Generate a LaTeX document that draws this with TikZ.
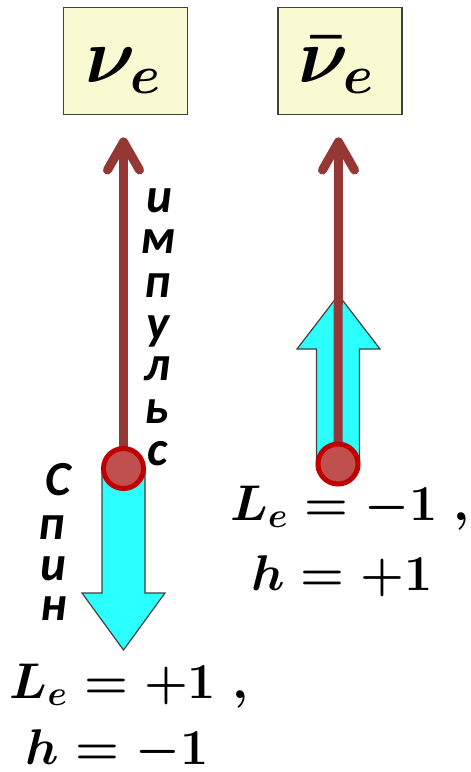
\documentclass[tikz,border=0pt]{standalone}
\usepackage{fontspec}
\newfontfamily\cyr{Carlito}
\usetikzlibrary{calc}
\definecolor{boxfill}{HTML}{FAFAD2}
\definecolor{boxline}{HTML}{404040}
\definecolor{mom}{HTML}{953735}
\definecolor{ballfill}{HTML}{C0504D}
\definecolor{ballline}{HTML}{C00000}
\definecolor{spin}{HTML}{2BFFFF}
\begin{document}
\begin{tikzpicture}[x=1pt,y=-1pt,
 partbox/.style={draw=boxline, line width=1.5pt, fill=boxfill, minimum width=124pt, minimum height=107pt, inner sep=0pt},
 parttext/.style={font=\boldmath\fontsize{20.74}{25}\selectfont, scale=3.76, inner sep=0pt, anchor=base},
 momline/.style={draw=mom, line width=9pt, line cap=round, line join=round},
 ball/.style={circle, draw=ballline, fill=ballfill, line width=5pt, minimum size=40pt, inner sep=0pt},
 spinarrow/.style={draw=boxline, line width=1.2pt, fill=spin, line join=miter},
 cyrl/.style={font=\cyr\bfseries\itshape\fontsize{49}{49}\selectfont, inner sep=0pt, anchor=base},
 eqtext/.style={font=\boldmath\fontsize{20.74}{25}\selectfont, scale=2.42, inner sep=0pt, anchor=base}
]
\useasboundingbox (0,0) rectangle (471,772);
% particle boxes
\node[partbox] (boxnu) at (125.5,61) {};
\node[parttext] (nu) at (123.5,82) {$\nu_e$};
\node[partbox] (boxanu) at (340,61) {};
\node[parttext] (anu) at (337,82) {$\bar{\nu}_e$};
% centres
\coordinate (cL) at (123.5,468.5);
\coordinate (cR) at (338,464);
\coordinate (tipL) at (123.5,142);
\coordinate (tipR) at (338.5,142);
% spin arrows
\draw[spinarrow] (102,470) -- (102,593) -- (82,593) -- (123.5,650) -- (165,593) -- (145,593) -- (145,470) -- cycle;
\draw[spinarrow] (316.5,470) -- (316.5,349) -- (297,349) -- (338.5,295) -- (380,349) -- (359.5,349) -- (359.5,470) -- cycle;
% momentum arrows
\draw[momline] (cL) -- (tipL);
\draw[momline] ($(tipL)+(-16,28)$) -- (tipL) -- ($(tipL)+(16,28)$);
\draw[momline] (cR) -- (tipR);
\draw[momline] ($(tipR)+(-16,28)$) -- (tipR) -- ($(tipR)+(16,28)$);
% balls
\node[ball] (ballL) at (cL) {};
\node[ball] (ballR) at (cR) {};
% impuls letters
\node[cyrl] (m1) at (159,212) {и};
\node[cyrl] (m2) at (158,253) {м};
\node[cyrl] (m3) at (158,297) {п};
\node[cyrl] (m4) at (158,339) {у};
\node[cyrl] (m5) at (157,380) {л};
\node[cyrl] (m6) at (157,423) {ь};
\node[cyrl] (m7) at (158,465) {с};
% spin letters
\node[cyrl] (s1) at (58,495) {С};
\node[cyrl] (s2) at (52,539) {п};
\node[cyrl] (s3) at (53,580) {и};
\node[cyrl] (s4) at (54,620) {н};
% quantum numbers
\node[eqtext] (eqL1) at (129,698) {$L_e=+1\;,$};
\node[eqtext] (eqL2) at (117,764) {$h=-1$};
\node[eqtext] (eqR1) at (350,520) {$L_e=-1\;,$};
\node[eqtext] (eqR2) at (342,590) {$h=+1$};
\end{tikzpicture}
\end{document}
